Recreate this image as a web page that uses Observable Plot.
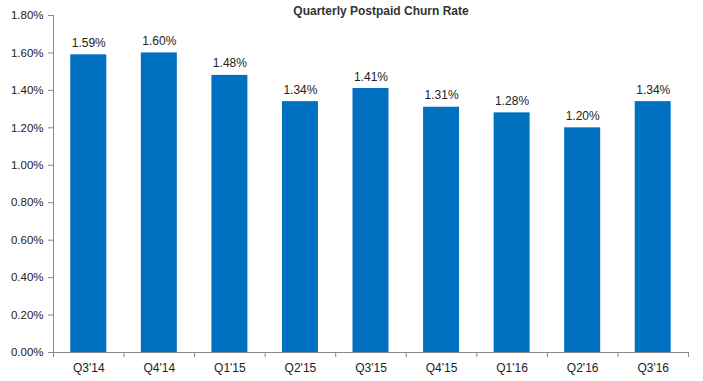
<!DOCTYPE html>
<html><head><meta charset="utf-8">
<script src="https://cdn.jsdelivr.net/npm/d3@7"></script>
<script src="https://cdn.jsdelivr.net/npm/@observablehq/plot@0.6"></script>
<style>body{margin:0;background:#fff;font-family:"Liberation Sans",Arial,sans-serif;}</style>
</head><body><div id="chart"></div>
<script>
const quarters = ["Q3'14","Q4'14","Q1'15","Q2'15","Q3'15","Q4'15","Q1'16","Q2'16","Q3'16"];
const churn = [1.59,1.60,1.48,1.34,1.41,1.31,1.28,1.20,1.34];
const yTicks = [0,0.2,0.4,0.6,0.8,1.0,1.2,1.4,1.6,1.8];
const title = "Quarterly Postpaid Churn Rate";

const data = quarters.map((q,i)=>({q, i, v: churn[i]}));
const half = 0.255;
const boundaries = d3.range(quarters.length+1);

const chart = Plot.plot({
  width: 703, height: 381,
  marginLeft: 53, marginRight: 15, marginTop: 15, marginBottom: 29,
  style: {fontFamily: "Liberation Sans, Arial, sans-serif", fontSize: "11px", color: "#222", background: "#fff"},
  x: {type: "linear", domain: [0, quarters.length], label: null},
  y: {type: "linear", domain: [0, 1.8], label: null},
  marks: [
    Plot.rectY(data, {x1: d=>d.i+0.5-half, x2: d=>d.i+0.5+half, y1: 0, y2: "v", fill: "#0070C0"}),
    Plot.text(data, {x: d=>d.i+0.5, y: "v", text: d=>d.v.toFixed(2)+"%", lineAnchor: "bottom", dy: -8, fill: "#222", fontSize: 12}),
    Plot.ruleX([0], {y1: 0, y2: 1.8, stroke: "#888"}),
    Plot.axisY(yTicks, {tickSize: 5, tickPadding: 5, stroke: "#888", tickFormat: d=>d.toFixed(2)+"%", fill: "#222", fontSize: 11.5, label: null}),
    Plot.ruleY([0], {stroke: "#888"}),
    Plot.axisX(boundaries, {tickSize: 5, stroke: "#888", tickFormat: ()=>"", label: null}),
    Plot.text(data, {x: d=>d.i+0.5, y: 0, text: "q", dy: 16, fill: "#222", fontSize: 12}),
    Plot.text([title], {frameAnchor: "top", text: d=>d, dx: 10, dy: -9, fontWeight: "bold", fontSize: 12, fill: "#333"})
  ]
});
document.getElementById("chart").appendChild(chart);
</script></body></html>
